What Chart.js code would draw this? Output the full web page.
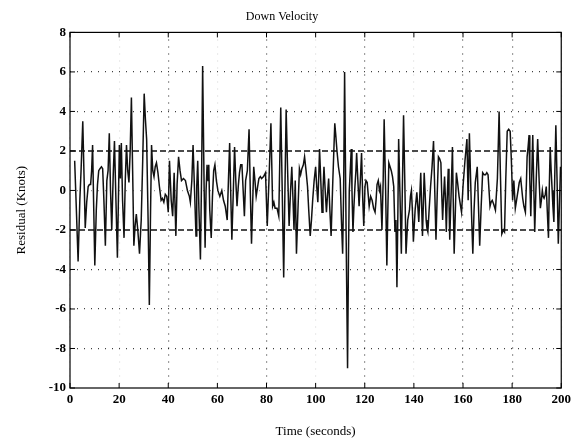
<!DOCTYPE html>
<html>
<head>
<meta charset="utf-8">
<script src="https://cdn.jsdelivr.net/npm/chart.js@4/dist/chart.umd.min.js"></script>
<style>
  html, body { margin: 0; padding: 0; background: #fff; }
  #wrap { width: 575px; height: 439px; }
</style>
</head>
<body>
<div id="wrap"><canvas id="residualChart" width="575" height="439"></canvas></div>
<script>
// Data (time in s, residual in knots)
const timeSec = [
    1.9, 2.6, 3.3, 4.0, 4.5, 5.2, 5.7, 6.2, 6.8, 7.4,
    7.9, 8.4, 8.8, 9.2, 9.6, 10.1, 10.7, 11.2, 11.7, 12.2,
    12.8, 13.3, 13.8, 14.4, 15.0, 15.5, 16.0, 16.5, 17.0, 17.6,
    18.1, 18.7, 19.3, 19.8, 20.1, 20.5, 20.9, 21.4, 22.0, 22.5,
    23.0, 23.5, 24.0, 24.5, 25.0, 25.5, 26.0, 26.5, 27.0, 27.6,
    28.3, 28.7, 29.0, 29.6, 30.2, 30.7, 31.2, 31.8, 32.3, 32.8,
    33.2, 33.7, 34.2, 34.7, 35.2, 35.8, 36.4, 37.1, 37.6, 38.2,
    38.8, 39.4, 40.0, 40.5, 41.2, 41.8, 42.4, 43.1, 43.6, 44.2,
    44.8, 45.4, 46.2, 47.0, 47.8, 48.6, 49.0, 49.6, 50.1, 50.7,
    51.3, 51.6, 52.0, 52.5, 53.1, 53.6, 54.0, 54.6, 55.0, 55.4,
    55.8, 56.2, 56.5, 56.9, 57.5, 58.0, 58.5, 59.0, 59.6, 60.2,
    61.0, 61.8, 62.5, 63.2, 64.0, 64.5, 65.0, 65.5, 65.9, 66.5,
    67.0, 67.5, 68.0, 68.5, 69.0, 69.5, 70.0, 70.5, 71.0, 71.5,
    72.2, 72.9, 73.4, 73.9, 74.4, 74.8, 75.3, 75.8, 76.4, 76.9,
    77.5, 78.0, 78.8, 79.6, 80.3, 81.0, 81.8, 82.2, 82.5, 83.0,
    83.5, 84.3, 85.0, 85.8, 86.4, 87.0, 87.5, 88.0, 88.6, 89.2,
    89.8, 90.3, 90.8, 91.2, 91.7, 92.2, 92.8, 93.4, 93.9, 94.4,
    95.0, 95.5, 96.1, 96.7, 97.2, 97.8, 98.3, 98.8, 99.4, 100.0,
    100.4, 100.9, 101.3, 101.6, 102.1, 102.6, 103.0, 103.4, 103.9, 104.4,
    104.8, 105.3, 105.8, 106.3, 107.0, 107.8, 108.2, 108.7, 109.3, 110.0,
    110.5, 111.0, 111.4, 111.8, 112.4, 113.0, 113.4, 113.7, 114.1, 114.5,
    114.8, 115.2, 115.6, 116.0, 116.4, 116.7, 117.2, 117.7, 118.2, 118.7,
    119.2, 119.6, 120.1, 120.5, 121.0, 121.4, 121.8, 122.4, 123.0, 123.6,
    124.2, 124.6, 125.0, 125.5, 126.0, 126.4, 127.0, 127.5, 127.9, 128.5,
    129.0, 129.4, 129.8, 130.3, 130.8, 131.3, 131.8, 132.3, 132.7, 133.1,
    133.5, 133.8, 134.3, 134.9, 135.3, 135.8, 136.3, 136.8, 137.5, 138.2,
    138.6, 139.0, 139.4, 139.8, 140.5, 141.2, 141.6, 142.0, 142.4, 142.8,
    143.1, 143.5, 143.9, 144.2, 144.6, 145.0, 145.3, 145.7, 146.2, 146.8,
    147.4, 148.0, 148.5, 149.0, 149.5, 150.0, 150.5, 151.0, 151.3, 151.7,
    152.1, 152.5, 152.9, 153.2, 153.6, 154.0, 154.3, 154.6, 155.2, 155.7,
    156.0, 156.4, 156.9, 157.3, 157.8, 158.4, 158.9, 159.4, 159.7, 160.0,
    160.8, 161.6, 162.1, 162.6, 163.0, 163.5, 164.0, 164.5, 165.0, 165.4,
    165.8, 166.3, 166.8, 167.4, 168.0, 168.6, 169.2, 169.7, 170.2, 170.6,
    171.0, 171.4, 171.9, 172.5, 173.2, 173.6, 174.0, 174.3, 174.7, 175.2,
    175.8, 176.4, 176.9, 177.4, 178.0, 178.6, 179.2, 179.7, 180.2, 180.7,
    181.3, 181.8, 182.3, 182.9, 183.5, 183.9, 184.3, 184.8, 185.4, 185.8,
    186.1, 186.5, 186.9, 187.2, 187.6, 188.0, 188.4, 188.8, 189.2, 189.8,
    190.4, 191.0, 191.5, 191.9, 192.3, 192.6, 193.0, 193.5, 193.9, 194.3,
    194.8, 195.1, 195.5, 195.9, 196.3, 196.6, 197.0, 197.4, 197.8, 198.3,
    198.8, 199.2, 199.7
];
const residualKnots = [
    1.5, -1.0, -3.6, -0.5, 1.0, 3.5, 0.8, -1.9, -0.6, 0.2,
    0.3, 0.3, 1.0, 2.3, -0.5, -3.8, -1.0, 0.3, 1.0, 1.1,
    1.2, 1.1, -0.5, -2.8, 0.5, 1.0, 2.9, 0.0, -2.0, 0.8,
    2.5, -0.5, -3.4, 0.2, 2.3, 0.6, 2.4, -0.5, -2.4, 0.5,
    2.3, 1.0, 0.4, 2.0, 4.7, 1.0, -2.8, -1.8, -1.2, -2.0,
    -3.2, -2.2, -1.5, 1.5, 4.9, 3.6, 2.6, -1.5, -5.8, -1.0,
    2.3, 1.0, 0.7, 1.2, 1.4, 0.9, 0.2, -0.5, -0.4, -0.6,
    -0.2, -0.3, -1.1, 1.5, -0.5, -1.3, 0.9, -2.3, 0.3, 1.7,
    1.0, 0.5, 0.6, 0.5, 0.0, -0.3, -0.6, 0.5, 2.3, 0.0,
    -2.3, 0.2, 1.5, -1.0, -3.5, 1.0, 6.3, 0.2, -2.9, 0.0,
    1.3, 0.5, 1.3, -1.0, -2.4, -0.3, 1.0, 1.3, 0.5, 0.0,
    -0.3, 0.0, -0.5, -0.8, -1.5, 0.5, 2.4, -0.5, -2.5, 0.0,
    2.2, 0.5, -0.8, 0.2, 0.9, 1.3, 1.3, 0.0, -1.3, 0.5,
    1.0, 3.1, 0.0, -2.7, -0.5, 1.2, 0.5, -0.3, 0.2, 0.6,
    0.7, 0.6, 0.7, 0.9, -1.8, 0.5, 3.4, 1.0, -0.8, -0.6,
    -0.9, -0.9, -1.3, 4.2, 0.0, -4.4, 0.0, 4.1, 1.0, -1.8,
    0.0, 1.2, -0.5, -2.0, 0.5, -3.2, -1.0, 1.1, 0.8, 1.1,
    1.3, 1.7, 1.0, 0.2, -1.0, -2.3, -1.5, -0.5, 0.5, 1.2,
    0.3, -0.6, 0.8, 2.1, 0.5, -1.1, 0.0, 1.2, 0.0, -1.1,
    -0.3, 0.6, -1.0, -2.3, 0.5, 3.4, 2.8, 2.0, 1.2, 0.6,
    -1.5, -3.2, 0.0, 6.0, -2.0, -9.0, -3.0, 0.0, 1.0, 2.1,
    0.0, -2.1, -0.8, 0.2, 1.0, 1.9, 0.5, -0.8, 0.5, 1.9,
    -0.5, -1.8, 0.2, 0.5, 0.4, -0.2, -0.8, -0.3, -0.5, -0.9,
    -1.1, -0.5, 0.3, 0.5, 0.0, 0.2, -2.0, 0.5, 3.6, 0.0,
    -3.8, -1.0, 1.4, 1.2, 1.0, 0.7, 0.2, -2.1, -1.5, -4.9,
    -1.0, 2.6, 0.0, -3.2, 0.0, 3.8, 0.5, -3.2, -1.5, -1.0,
    -0.3, 0.0, -1.0, -2.6, -1.0, -0.1, -0.8, -1.6, -0.3, 0.9,
    -0.5, -2.3, -0.5, 0.9, -0.2, -1.5, -1.9, -2.1, -1.0, 0.2,
    1.2, 2.5, 0.0, -2.5, -0.2, 1.7, 1.6, 1.4, 0.0, -1.5,
    -0.3, 0.7, -0.6, -2.1, -0.3, 1.1, -0.5, -2.5, 0.0, 2.2,
    -0.3, -3.2, -1.0, 0.9, 0.4, -0.3, -0.7, -1.1, -0.5, 0.2,
    1.5, 2.6, -0.5, 2.9, 1.0, -1.3, -3.2, -1.0, 0.4, 0.8,
    1.2, -0.8, -2.8, -0.8, 0.9, 0.8, 0.8, 0.9, 0.8, 0.0,
    -0.8, -0.6, -0.5, -0.7, -1.0, -0.2, 0.6, 2.0, 4.0, 1.0,
    -2.2, -2.0, -2.1, 0.5, 3.0, 3.1, 3.0, 1.5, -0.5, 0.5,
    -0.9, -0.5, -0.1, 0.4, 0.6, 0.1, -0.4, -0.8, -1.1, 0.3,
    1.7, 2.2, 2.8, 0.5, -1.3, 0.8, 2.8, 0.3, -2.1, 0.5,
    2.6, 0.5, -0.9, -0.5, 0.0, -0.3, -0.4, -0.2, 0.2, -1.0,
    -2.4, 0.0, 2.2, 1.0, 0.0, -0.8, -1.6, 1.0, 3.3, 0.5,
    -2.7, -1.0, 1.2
];
const boundTimes = [0, 200];
const upperBound = 2;
const lowerBound = -2;
const xTicks = [0, 20, 40, 60, 80, 100, 120, 140, 160, 180, 200];
const yTicks = [-10, -8, -6, -4, -2, 0, 2, 4, 6, 8];

const SERIF = "'Liberation Serif', 'DejaVu Serif', serif";
// grid lines that show up clearly in the scan
const strongX = [40, 80, 120, 160, 180];
const strongY = [6, 4, -4, -6, -8];

// frame around the plot with small inward ticks
const framePlugin = {
    id: 'frame',
    afterDatasetsDraw(chart) {
        const { ctx, chartArea: a, scales } = chart;
        ctx.save();
        ctx.strokeStyle = '#000';
        ctx.lineWidth = 1.2;
        ctx.strokeRect(a.left, a.top, a.right - a.left, a.bottom - a.top);
        ctx.lineWidth = 1;
        ctx.beginPath();
        xTicks.forEach(v => {
            const px = scales.x.getPixelForValue(v);
            ctx.moveTo(px, a.top); ctx.lineTo(px, a.top + 5);
            ctx.moveTo(px, a.bottom); ctx.lineTo(px, a.bottom - 5);
        });
        yTicks.forEach(v => {
            const py = scales.y.getPixelForValue(v);
            ctx.moveTo(a.left, py); ctx.lineTo(a.left + 5, py);
            ctx.moveTo(a.right, py); ctx.lineTo(a.right - 5, py);
        });
        ctx.stroke();
        ctx.restore();
    }
};

const ctx = document.getElementById('residualChart').getContext('2d');
new Chart(ctx, {
    type: 'line',
    data: {
        datasets: [
            {
                label: 'Residual',
                data: timeSec.map((t, i) => ({ x: t, y: residualKnots[i] })),
                borderColor: '#111',
                borderWidth: 1.5,
                pointRadius: 0,
                tension: 0
            },
            {
                label: 'Upper',
                data: boundTimes.map(t => ({ x: t, y: upperBound })),
                borderColor: '#111',
                borderWidth: 1.6,
                borderDash: [6, 3],
                pointRadius: 0
            },
            {
                label: 'Lower',
                data: boundTimes.map(t => ({ x: t, y: lowerBound })),
                borderColor: '#111',
                borderWidth: 1.6,
                borderDash: [6, 3],
                pointRadius: 0
            }
        ]
    },
    options: {
        responsive: false,
        animation: false,
        layout: { padding: { top: 0, right: 11, bottom: 0, left: 0 } },
        plugins: {
            legend: { display: false },
            tooltip: { enabled: false },
            title: {
                display: true,
                text: 'Down Velocity',
                color: '#000',
                font: { family: SERIF, size: 12, weight: 'normal' },
                padding: { top: 10, bottom: 8 }
            }
        },
        scales: {
            x: {
                type: 'linear',
                min: 0,
                max: 200,
                afterFit: s => { s.height = 51; },
                afterBuildTicks: s => { s.ticks = xTicks.map(v => ({ value: v })); },
                ticks: {
                    color: '#000',
                    padding: 4,
                    maxRotation: 0,
                    font: { family: SERIF, size: 13, weight: 'bold' }
                },
                grid: {
                    drawTicks: false,
                    color: c => strongX.includes(c.tick && c.tick.value) ? 'rgba(0,0,0,0.75)' : 'rgba(0,0,0,0.15)',
                    lineWidth: 1.2
                },
                border: { display: false, dash: [1, 6] },
                title: {
                    display: true,
                    text: 'Time (seconds)',
                    color: '#000',
                    font: { family: SERIF, size: 13 },
                    padding: { top: 1, bottom: 0 }
                }
            },
            y: {
                min: -10,
                max: 8,
                afterFit: s => { s.width = 70; },
                afterBuildTicks: s => { s.ticks = yTicks.map(v => ({ value: v })); },
                ticks: {
                    color: '#000',
                    padding: 4,
                    font: { family: SERIF, size: 13, weight: 'bold' }
                },
                grid: {
                    drawTicks: false,
                    color: c => {
                        const v = c.tick && c.tick.value;
                        if (strongY.includes(v)) return 'rgba(0,0,0,0.75)';
                        if (v === 0) return 'rgba(0,0,0,0.4)';
                        return 'rgba(0,0,0,0)';
                    },
                    lineWidth: 1.2
                },
                border: { display: false, dash: [1, 6] },
                title: {
                    display: true,
                    text: 'Residual (Knots)',
                    color: '#000',
                    font: { family: SERIF, size: 13 },
                    padding: { top: 14, bottom: 0 }
                }
            }
        }
    },
    plugins: [framePlugin]
});
</script>
</body>
</html>
